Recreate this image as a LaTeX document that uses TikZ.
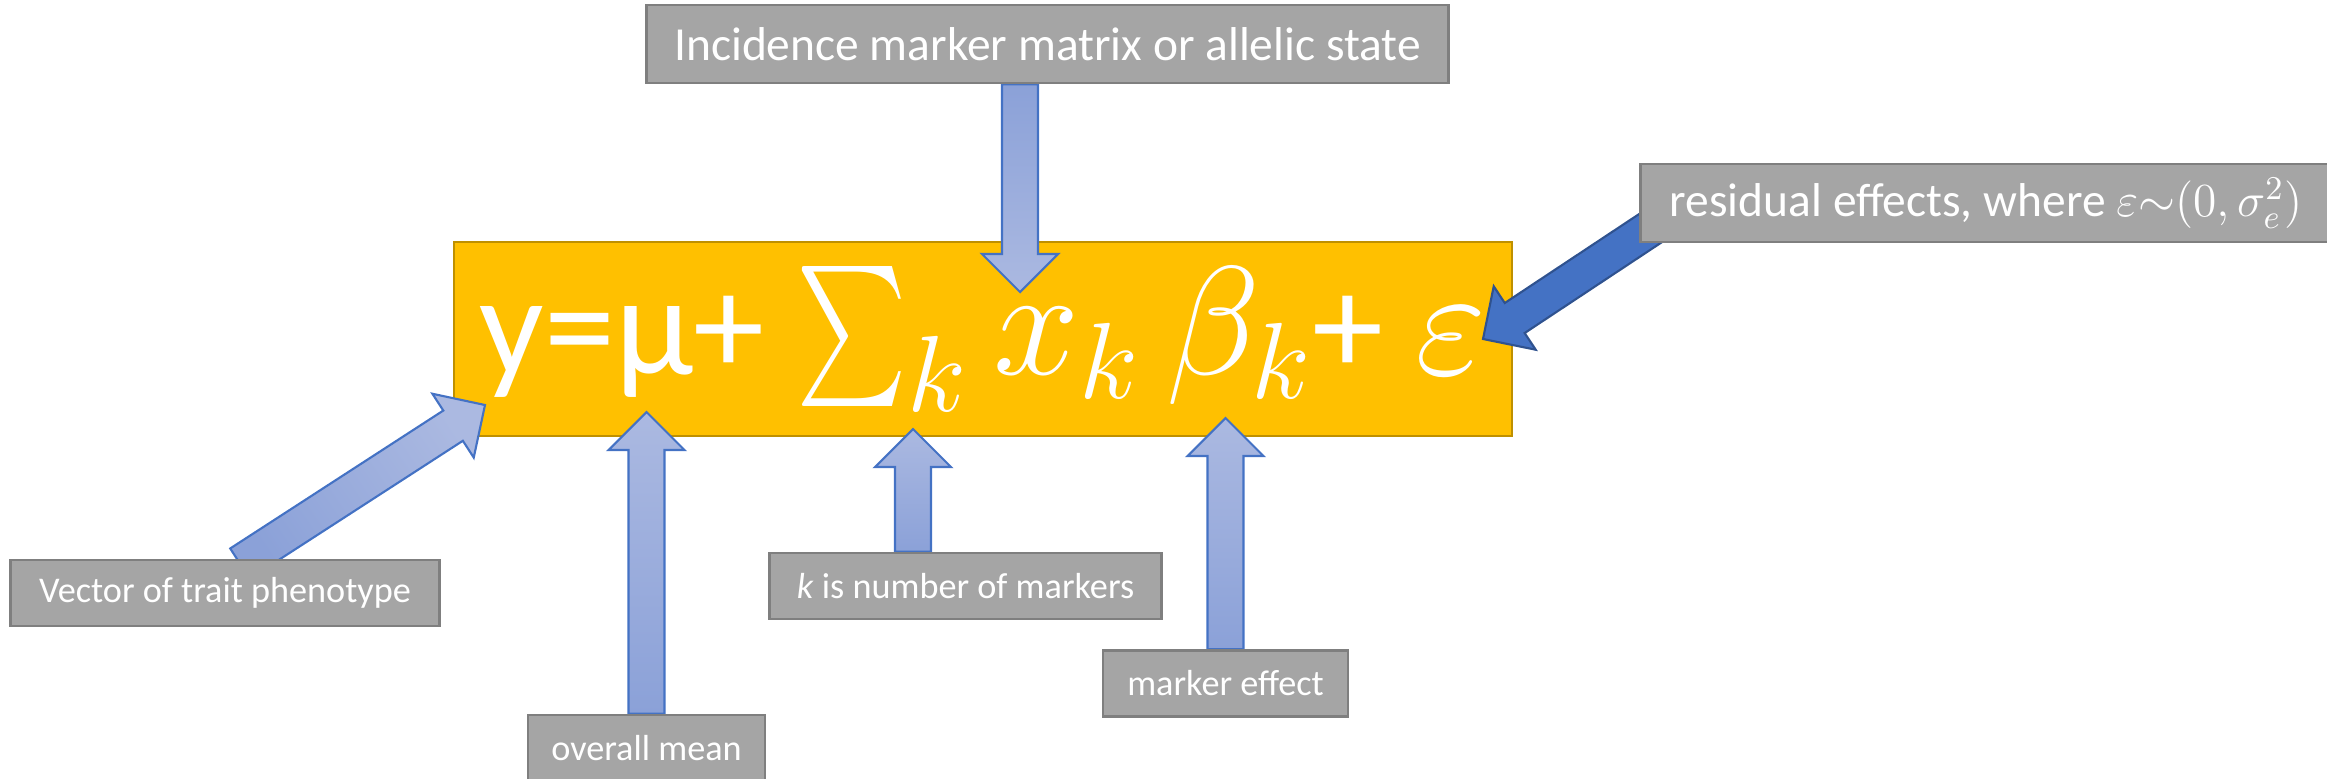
\RequirePackage{fix-cm}
\documentclass[tikz,border=0pt]{standalone}
\usepackage{amsmath}
\usepackage[no-math]{fontspec}
\setmainfont{Carlito}
\usetikzlibrary{calc}
\definecolor{boxgray}{HTML}{A5A5A5}
\definecolor{boxedge}{HTML}{7F7F7F}
\definecolor{eqorange}{HTML}{FFC000}
\definecolor{eqedge}{HTML}{BF9000}
\definecolor{arrowedge}{HTML}{4472C4}
\definecolor{arrowlight}{HTML}{ABB9E1}
\definecolor{arrowdark}{HTML}{8BA1D8}
\definecolor{arrowblue}{HTML}{4472C4}
\definecolor{arrownavy}{HTML}{2F528F}

\pgfdeclarelayer{back}
\pgfdeclarelayer{mid}
\pgfsetlayers{back,mid,main}

% block arrow from tail to tip: shaft 36px, head 76px wide, 38px long
\newcommand{\blockarrow}[3][]{%
  \coordinate (ba-s) at (#2);
  \coordinate (ba-t) at (#3);
  \coordinate (ba-h) at ($(ba-t)!0.38cm!(ba-s)$);
  \draw[#1] ($(ba-s)!0.18cm!90:(ba-t)$) -- ($(ba-h)!0.18cm!-90:(ba-s)$)
    -- ($(ba-h)!0.38cm!-90:(ba-s)$) -- (ba-t) -- ($(ba-h)!0.38cm!90:(ba-s)$)
    -- ($(ba-h)!0.18cm!90:(ba-s)$) -- ($(ba-s)!0.18cm!-90:(ba-t)$) -- cycle;}
\newcommand{\bigsum}{\mathop{\vcenter{\hbox{\scalebox{1.2}[1.6]{$\sum$}}}}\nolimits}

\begin{document}
\begin{tikzpicture}[x=0.01cm,y=-0.01cm,
  label/.style={draw=boxedge,line width=0.8pt,fill=boxgray,text=white,inner sep=0pt},
  upper/.style={label,minimum height=0.78cm,font=\fontsize{13.5}{16}\selectfont},
  lower/.style={label,minimum height=0.66cm,font=\fontsize{10.3}{12}\selectfont},
  light/.style={draw=arrowedge,line width=0.6pt,top color=arrowlight,bottom color=arrowdark},
  lightdown/.style={draw=arrowedge,line width=0.6pt,top color=arrowdark,bottom color=arrowlight}]
  \useasboundingbox (0,0) rectangle (2327,778);

  % the model
  \begin{pgfonlayer}{back}
    \node[draw=eqedge,line width=0.6pt,fill=eqorange,text=white,inner sep=0pt,minimum width=10.58cm,
      minimum height=1.94cm,font=\fontsize{40.5}{48}\selectfont] (eq) at (983,339)
      {y=μ+ {\fontsize{44}{50}\selectfont$\bigsum_k x_k\,\beta_k$}+ {\fontsize{44}{50}\selectfont$\varepsilon$}};
  \end{pgfonlayer}

  % labels
  \node[upper,minimum width=8.01cm] (inc) at (1047.5,44) {Incidence marker matrix or allelic state};
  \node[upper,minimum width=6.9cm] (res) at (1986,203) {residual effects, where $\varepsilon{\sim}(0,\sigma_e^2)$};
  \node[lower,minimum width=4.28cm] (vec) at (225,593) {Vector of trait phenotype};
  \node[lower,minimum width=2.37cm] (mean) at (646.5,748) {overall mean};
  \node[lower,minimum width=3.91cm] (num) at (965.5,586) {\textit{k} is number of markers};
  \node[lower,minimum width=2.45cm] (eff) at (1225.5,683.5) {marker effect};

  % where the arrows point
  \coordinate (xtip) at (1020,292);
  \coordinate (ytip) at (485,405);
  \coordinate (mutip) at (646.5,412);
  \coordinate (ktip) at (913,429);
  \coordinate (btip) at (1225.5,418);
  \coordinate (etip) at (1483,339);

  \begin{pgfonlayer}{mid}
    \blockarrow[lightdown]{inc.south -| xtip}{xtip}
    \blockarrow[light,shading angle=-56]{$(vec.north)+(15,5)$}{ytip}
    \blockarrow[light]{mean.north -| mutip}{mutip}
    \blockarrow[light]{num.north -| ktip}{ktip}
    \blockarrow[light]{eff.north -| btip}{btip}
    \blockarrow[fill=arrowblue,draw=arrownavy,line width=0.6pt]{$(res.west)+(49,0)$}{etip}
  \end{pgfonlayer}
\end{tikzpicture}
\end{document}
